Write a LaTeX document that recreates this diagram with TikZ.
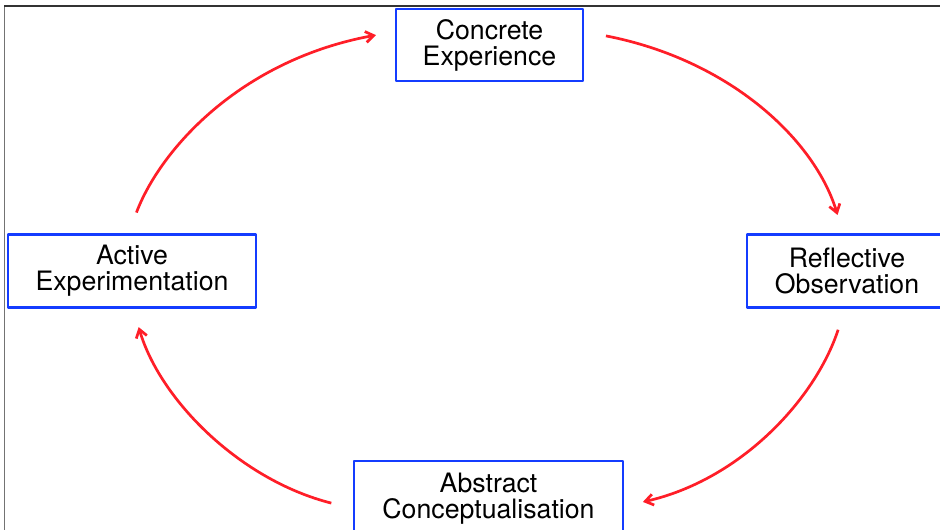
\documentclass[tikz,border=0pt]{standalone}
\usepackage{fontspec}
\setmainfont{TeX Gyre Heros}
\usetikzlibrary{arrows.meta}
\definecolor{boxblue}{RGB}{20,60,255}
\definecolor{cyclered}{RGB}{255,30,40}
\begin{document}
\begin{tikzpicture}[>={Straight Barb[length=8bp,width=11bp]},line join=bevel,
  stage/.style={draw=boxblue,line width=2.7bp,align=center,inner sep=0pt,
    font={\fontsize{26.8}{26}\selectfont}},
  flow/.style={->,draw=cyclered,line width=2.7bp,shorten <=22bp,shorten >=19bp},]
\useasboundingbox (0bp,0bp) rectangle (940bp,-530bp);
%%
\draw [black!55,line width=1.3bp] (4.5bp,-530bp) -- (4.5bp,-6bp);
\draw [black!80,line width=1.3bp] (4bp,-6bp) -- (940bp,-6bp);
%
\node (concrete) at (489.5bp,-45bp) [stage,minimum width=187bp,minimum height=72bp] {Concrete\\Experience};
  \node (reflective) at (847bp,-271bp) [stage,minimum width=200bp,minimum height=73bp] {Reflective\\Observation};
  \node (abstract) at (488.5bp,-499bp) [stage,minimum width=269bp,minimum height=76bp] {Abstract\\Conceptualisation};
  \node (active) at (132bp,-271bp) [stage,minimum width=248bp,minimum height=73bp] {Active\\Experimentation};
  \draw [flow] (active.95) ..controls (160bp,-150bp) and (240bp,-60bp)  .. (concrete.172);
  \draw [flow] (concrete.8) ..controls (730bp,-60bp) and (815bp,-140bp)  .. (reflective.96);
  \draw [flow] (reflective.267) ..controls (815bp,-400bp) and (740bp,-480bp)  .. (abstract.357);
  \draw [flow] (abstract.184) ..controls (240bp,-480bp) and (160bp,-400bp)  .. (active.272);
%
\end{tikzpicture}
\end{document}
